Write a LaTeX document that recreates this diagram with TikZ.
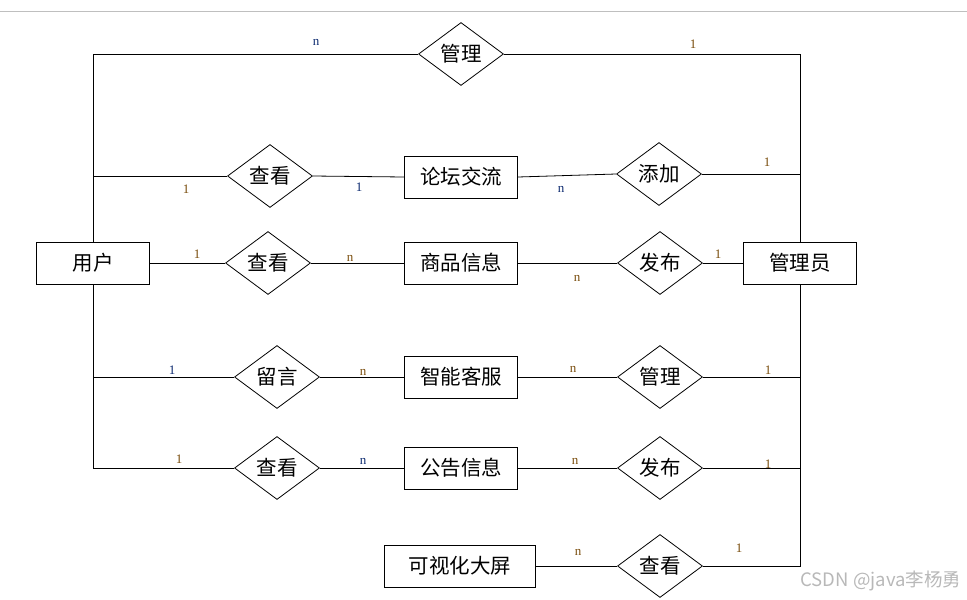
\documentclass[tikz,border=0pt]{standalone}
\usepackage{fontspec}
\setmainfont{Liberation Serif}
\newfontfamily\cjk{Noto Sans CJK SC}
\usetikzlibrary{shapes.geometric}
\tikzset{
entity/.style={
	draw, rectangle, minimum width=113pt, minimum height=42pt,
	inner sep=2pt, font=\cjk\fontsize{20.5}{24}\selectfont},
relation/.style={
	draw, diamond, minimum width=85pt, minimum height=63pt,
	inner sep=0pt, font=\cjk\fontsize{20.5}{24}\selectfont},
one/.style={font=\fontsize{13}{15}\selectfont, text={rgb,255:red,120;green,75;blue,10}},
many/.style={font=\fontsize{13}{15}\selectfont, text={rgb,255:red,10;green,40;blue,110}}
}

\begin{document}
\begin{tikzpicture}[x=1pt, y=-1pt, line width=0.8pt]
	\useasboundingbox (0,0) rectangle (967,600);
	\draw[black!25] (0,11) -- (967,11);
	% entities
	\node[entity] (user) at (93,263) {用户};
	\node[entity] (admin) at (800,263) {管理员};
	\node[entity] (forum) at (461,177) {论坛交流};
	\node[entity] (goods) at (461,263) {商品信息};
	\node[entity] (service) at (461,377) {智能客服};
	\node[entity] (notice) at (461,468) {公告信息};
	\node[entity, minimum width=151pt] (screen) at (460,566) {可视化大屏};
	% relations
	\node[relation] (manage) at (461,54) {管理};
	\node[relation] (viewforum) at (270,176) {查看};
	\node[relation] (addforum) at (659,174) {添加};
	\node[relation] (viewgoods) at (268,263) {查看};
	\node[relation] (pubgoods) at (660,263) {发布};
	\node[relation] (message) at (277,377) {留言};
	\node[relation] (manageservice) at (660,377) {管理};
	\node[relation] (viewnotice) at (277,468) {查看};
	\node[relation] (pubnotice) at (660,468) {发布};
	\node[relation] (viewscreen) at (660,566) {查看};
	% user side
	\draw (user.north) |- (manage.west);
	\draw (user.north) |- (viewforum.west);
	\draw (user.east) -- (viewgoods.west);
	\draw (user.south) |- (message.west);
	\draw (user.south) |- (viewnotice.west);
	% middle
	\draw (viewforum.east) -- (forum.west);
	\draw (forum.east) -- (addforum.west);
	\draw (viewgoods.east) -- (goods.west);
	\draw (goods.east) -- (pubgoods.west);
	\draw (message.east) -- (service.west);
	\draw (service.east) -- (manageservice.west);
	\draw (viewnotice.east) -- (notice.west);
	\draw (notice.east) -- (pubnotice.west);
	\draw (screen.east) -- (viewscreen.west);
	% admin side
	\draw (manage.east) -| (admin.north);
	\draw (addforum.east) -| (admin.north);
	\draw (pubgoods.east) -- (admin.west);
	\draw (manageservice.east) -| (admin.south);
	\draw (pubnotice.east) -| (admin.south);
	\draw (viewscreen.east) -| (admin.south);
	% cardinalities
	\node[many] (c1) at (316,42) {n};
	\node[one] (c2) at (693,44) {1};
	\node[one] (c3) at (186,189) {1};
	\node[many] (c4) at (359,187) {1};
	\node[many] (c5) at (561,189) {n};
	\node[one] (c6) at (767,162) {1};
	\node[one] (c7) at (197,254) {1};
	\node[one] (c8) at (350,258) {n};
	\node[one] (c9) at (577,278) {n};
	\node[one] (c10) at (718,254) {1};
	\node[many] (c11) at (172,370) {1};
	\node[one] (c12) at (363,372) {n};
	\node[one] (c13) at (573,369) {n};
	\node[one] (c14) at (768,370) {1};
	\node[one] (c15) at (179,459) {1};
	\node[many] (c16) at (363,461) {n};
	\node[one] (c17) at (575,461) {n};
	\node[one] (c18) at (768,464) {1};
	\node[one] (c19) at (578,552) {n};
	\node[one] (c20) at (739,548) {1};
	% watermark
	\node[anchor=east, text=black!28, font=\cjk\fontsize{18.5}{20}\selectfont] (mark) at (965,581) {CSDN @java李杨勇};
\end{tikzpicture}
\end{document}
